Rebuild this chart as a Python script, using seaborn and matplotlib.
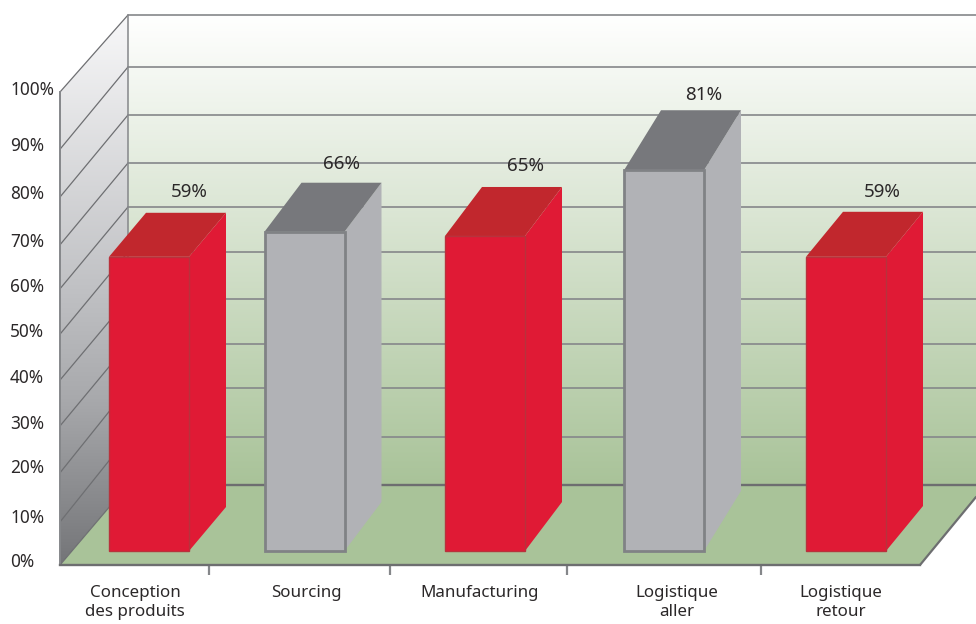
import numpy as np
import matplotlib
matplotlib.use("Agg")
import matplotlib.pyplot as plt
from matplotlib.patches import Polygon
from matplotlib.colors import LinearSegmentedColormap
import pandas as pd
import seaborn as sns

# ---- data
categories = ["Conception\ndes produits", "Sourcing", "Manufacturing", "Logistique\naller", "Logistique\nretour"]
value_labels = ["59%", "66%", "65%", "81%", "59%"]
drawn_heights = [62.2, 67.5, 66.6, 80.5, 62.2]
groups = ["rouge", "gris", "rouge", "gris", "rouge"]
y_tick_labels = ["0%", "10%", "20%", "30%", "40%", "50%", "60%", "70%", "80%", "90%", "100%"]

# ---- layout (pixel-based x axis, percent y axis)
W, H = 976, 624
AX_LEFT, AX_BOTTOM_PX = 60, 565
PX = 4.73  # pixels per percent point
bar_centers = [149, 304.5, 485, 664, 846]
bar_width_px = 80
bar_base = 2.96
depth_dx = 37
depth_dy_px = [44, 49, 49, 60, 45]
label_dx_px = [0, -3, 1, 0, -4]
label_dy_px = [21, 19, 21, 15, 20]
front_levels = [0, 9.1, 19.5, 29.4, 39.1, 48.8, 58.4, 67.7, 77.8, 87.9, 100]
back_levels = [16.91, 27.06, 37.42, 46.72, 56.24, 66.17, 75.69, 84.99, 95.14, 105.29, 116.28]
tick_label_levels = [1.06, 10.4, 20.9, 30.2, 39.9, 49.7, 59.2, 68.8, 78.9, 89.0, 100.85]
x_label_centers = [135, 306, 480, 677, 841]
separators = [209, 390, 567, 761]
wall_x = 128
floor_right = 920

FRONT = {"rouge": "#e01a35", "gris": "#b1b2b6"}
TOP = {"rouge": "#c1272d", "gris": "#77787c"}
EDGE = {"rouge": "#b8323c", "gris": "#808285"}
EDGE_W = {"rouge": 1.0, "gris": 2.0}
LINE = "#85878a"
WALL_LINE = "#6e6f72"
DARK = "#6d6e70"
TXT = "#2b2829"

sns.set_theme(style="white")
plt.rcParams["font.family"] = ["Noto Sans", "DejaVu Sans"]

fig = plt.figure(figsize=(W / 100, H / 100), dpi=100, facecolor="white")
ax = fig.add_axes([AX_LEFT / W, (H - AX_BOTTOM_PX) / H, (W - AX_LEFT) / W, AX_BOTTOM_PX / H])
ymax = AX_BOTTOM_PX / PX

df = pd.DataFrame({"x": bar_centers, "h": drawn_heights, "g": groups})
sns.barplot(data=df, x="x", y="h", hue="g", palette=FRONT, native_scale=True,
            width=bar_width_px / 155.5, dodge=False, saturation=1, legend=False, ax=ax)
bars = sorted(ax.patches, key=lambda p: p.get_x())

# back wall, left wall, floor
green = LinearSegmentedColormap.from_list("g", ["#ffffff", "#a9c399"])
grey = LinearSegmentedColormap.from_list(
    "w", [(0, "#f8f8f9"), (0.5, "#c0c1c4"), (0.7, "#a8a9ac"), (1, "#747578")])
grad = np.linspace(0, 1, 256).reshape(-1, 1)
ax.imshow(grad, cmap=green, aspect="auto", origin="upper", zorder=0,
          extent=[wall_x, W, back_levels[0], back_levels[-1]])
im = ax.imshow(grad, cmap=grey, aspect="auto", origin="upper", zorder=0.5,
               extent=[AX_LEFT, wall_x, 0, back_levels[-1]])
wall = Polygon([(AX_LEFT, 0), (AX_LEFT, 100), (wall_x, back_levels[-1]), (wall_x, back_levels[0])],
               closed=True, transform=ax.transData, fc="none", ec="none")
ax.add_patch(wall)
im.set_clip_path(wall)
right_y = (AX_BOTTOM_PX - 497) / PX
ax.add_patch(Polygon([(AX_LEFT, 0), (wall_x, back_levels[0]), (W, back_levels[0]), (W, right_y), (floor_right, 0)],
                     closed=True, fc="#a9c399", ec="none", zorder=1))
ax.plot([floor_right, W], [0, right_y], color=DARK, lw=1.6, zorder=2)

# grid lines
for k, (f, b) in enumerate(zip(front_levels, back_levels)):
    ax.plot([AX_LEFT, wall_x], [f, b], color=WALL_LINE, lw=0.9, zorder=2)
    if k == 0:
        ax.plot([wall_x, W], [b, b], color=DARK, lw=1.7, zorder=2)
    else:
        ax.plot([wall_x, W], [b, b], color=LINE, lw=1.2, zorder=2)
ax.plot([wall_x, wall_x], [back_levels[0], back_levels[-1]], color=LINE, lw=1.1, zorder=2)

# 3D bars: front face comes from seaborn, top and side are derived from it
for p, g, dy, txt, ldx, ldy in zip(bars, groups, depth_dy_px, value_labels, label_dx_px, label_dy_px):
    x0, w, h = p.get_x(), p.get_width(), p.get_height()
    x1 = x0 + w
    d = dy / PX
    y0, y1 = bar_base, bar_base + h
    p.set_y(bar_base)
    p.set_zorder(5)
    p.set_edgecolor(EDGE[g])
    p.set_linewidth(EDGE_W[g])
    ax.add_patch(Polygon([(x1, y0), (x1 + depth_dx, y0 + d), (x1 + depth_dx, y1 + d), (x1, y1)],
                         closed=True, fc=FRONT[g], ec="none", zorder=3))
    ax.add_patch(Polygon([(x0, y1), (x0 + depth_dx, y1 + d), (x1 + depth_dx, y1 + d), (x1, y1)],
                         closed=True, fc=TOP[g], ec="none", zorder=3))
    ax.text(x1 + ldx, y1 + d + ldy / PX, txt, ha="center", va="center", color=TXT, fontsize=13.5, zorder=6)

# axes
ax.set_xlim(AX_LEFT, W)
ax.set_ylim(0, ymax)
ax.set_xlabel("")
ax.set_ylabel("")
ax.set_xticks(x_label_centers)
ax.set_xticklabels(categories, fontsize=12.2, color=TXT, linespacing=1.28)
ax.set_xticks(separators, minor=True)
ax.tick_params(axis="x", which="major", length=0, pad=14.5)
ax.tick_params(axis="x", which="minor", length=7.5, width=1.6, color=LINE, bottom=True)
ax.set_yticks(tick_label_levels)
ax.set_yticklabels(y_tick_labels, fontsize=12.4, color=TXT, ha="left")
ax.tick_params(axis="y", length=0, pad=36)
for s in ("top", "right"):
    ax.spines[s].set_visible(False)
ax.spines["left"].set_bounds(0, 100)
ax.spines["left"].set_color(LINE)
ax.spines["left"].set_linewidth(1.4)
ax.spines["bottom"].set_bounds(AX_LEFT, floor_right)
ax.spines["bottom"].set_color(DARK)
ax.spines["bottom"].set_linewidth(1.7)

fig.savefig("out.png", dpi=100)
